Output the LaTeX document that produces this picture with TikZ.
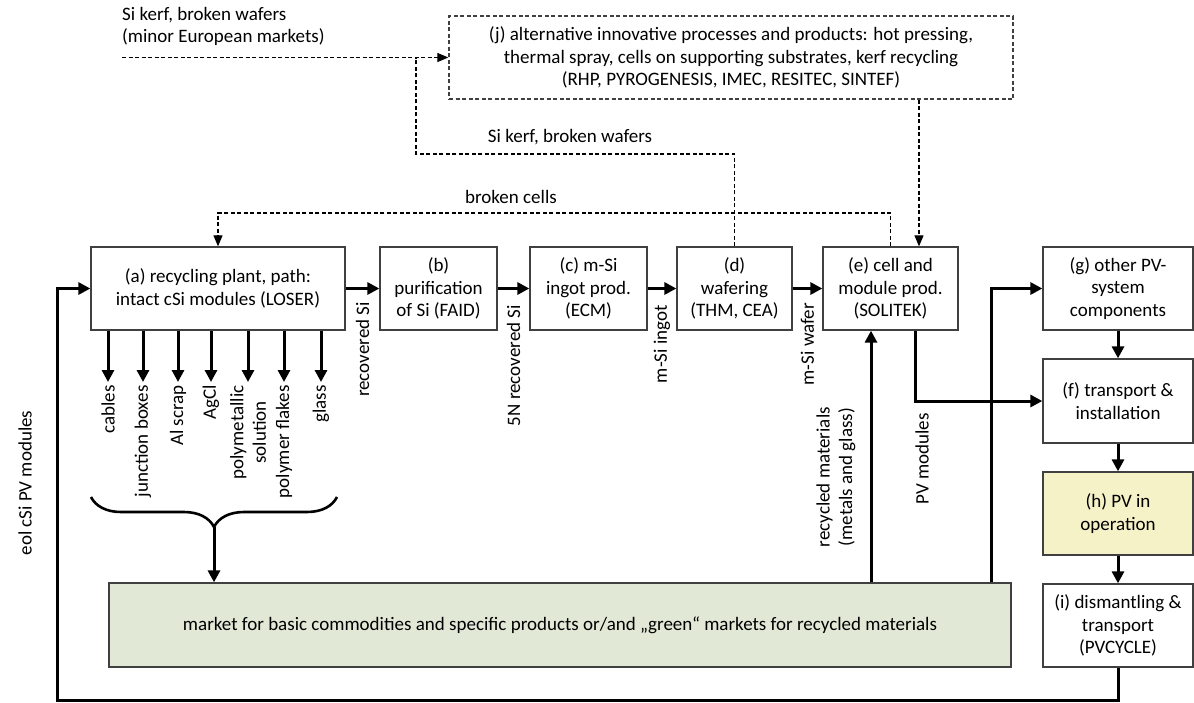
\documentclass[tikz,border=0pt]{standalone}
\usepackage{fontspec}
\setmainfont{Carlito}
\usetikzlibrary{arrows.meta, decorations.pathreplacing}
\definecolor{mgreen}{RGB}{226,232,214}
\definecolor{hyellow}{RGB}{246,242,200}

\begin{document}
\begin{tikzpicture}[x=1pt, y=-1pt,
  font=\fontsize{19}{22.5}\selectfont,
  box/.style={draw=black!75, line width=1.3pt, align=center, inner sep=2pt, minimum height=83pt},
  dbox/.style={box, dash pattern=on 4pt off 2.5pt},
  flow/.style={line width=3pt, -{Triangle[length=12pt, width=12pt]}},
  dflow/.style={line width=1.1pt, dash pattern=on 4pt off 2.5pt, -{Triangle[length=11pt, width=9pt]}},
  dline/.style={line width=1.1pt, dash pattern=on 4pt off 2.5pt},
  vlabel/.style={rotate=90, anchor=east, align=center, inner sep=2pt}]
\useasboundingbox (0,0) rectangle (1194,702);

\node[dbox, minimum width=564pt] (j) at (731,57.5) {(j) alternative innovative processes and products: hot pressing,\\thermal spray, cells on supporting substrates, kerf recycling\\(RHP, PYROGENESIS, IMEC, RESITEC, SINTEF)};
\node[anchor=north west, align=left, inner sep=0pt] (minor) at (122,7) {Si kerf, broken wafers\\(minor European markets)};

\node[box, minimum width=254pt] (a) at (218,288.5) {(a) recycling plant, path:\\intact cSi modules (LOSER)};
\node[box, minimum width=117pt] (b) at (438.5,288.5) {(b)\\purification\\of Si (FAID)};
\node[box, minimum width=117pt] (c) at (588.5,288.5) {(c) m-Si\\ingot prod.\\(ECM)};
\node[box, minimum width=115pt] (d) at (734.5,288.5) {(d)\\wafering\\(THM, CEA)};
\node[box, minimum width=135pt] (e) at (890.5,288.5) {(e) cell and\\module prod.\\(SOLITEK)};
\node[box, minimum width=150pt] (g) at (1118,288.5) {(g) other PV-\\system\\components};
\node[box, minimum width=150pt, minimum height=84pt] (f) at (1118,401) {(f) transport \&\\installation};
\node[box, minimum width=150pt, fill=hyellow] (h) at (1118,513.5) {(h) PV in\\operation};
\node[box, minimum width=150pt] (i) at (1118,625.5) {(i) dismantling \&\\transport\\(PVCYCLE)};
\node[box, minimum width=902pt, minimum height=84pt, fill=mgreen] (market) at (560,625) {market for basic commodities and specific products or/and „green“ markets for recycled materials};

\node (kerf) at (570,137) {Si kerf, broken wafers};
\node (broken) at (511,197) {broken cells};
\node[vlabel] (lrec) at (362.5,300) {recovered Si};
\node[vlabel] (lfive) at (513.5,303) {5N recovered Si};
\node[vlabel] (lingot) at (662,303) {m-Si ingot};
\node[vlabel] (lwafer) at (807.5,301) {m-Si wafer};
\node[vlabel] (lrecmat) at (836,405) {recycled materials\\(metals and glass)};
\node[vlabel] (lpv) at (922,411) {PV modules};
\node[rotate=90] (leol) at (25,483) {eol cSi PV modules};

\coordinate (kerfin) at (122,57.5);
\coordinate (join) at (416,57.5);
\coordinate (kbend) at (416,154);
\coordinate (cbend) at (218,213);
\coordinate (ein) at ([xshift=28.5pt]e.north);
\draw[dflow] (kerfin) -- (j.west);
\draw[dline] (d.north) |- (kbend) -- (join);
\draw[dflow] (e.north) |- (cbend) -- (a.north);
\draw[dflow] (ein |- j.south) -- (ein);

\draw[flow] (a.east) -- (b.west);
\draw[flow] (b.east) -- (c.west);
\draw[flow] (c.east) -- (d.west);
\draw[flow] (d.east) -- (e.west);
\foreach \x/\txt in {108/cables, 143/junction boxes, 178/Al scrap, 211/AgCl, 248/{polymetallic\\solution}, 284/polymer flakes, 321/glass}
  \draw[flow] (\x,0 |- a.south) -- (\x,382) node[vlabel] (out\x) {\txt};

\draw[line width=2.6pt, decorate, decoration={brace, amplitude=30pt, mirror}] (91,497) -- (337,497);
\coordinate (bracetip) at (214,527);
\draw[flow] (bracetip) -- (bracetip |- market.north);

\coordinate (eup) at ([xshift=-19.5pt]e.south);
\coordinate (edown) at ([xshift=24.5pt]e.south);
\coordinate (gfeed) at ([xshift=-20pt]market.north east);
\draw[flow] (eup |- market.north) -- (eup);
\draw[flow] (edown) |- (f.west);
\draw[flow] (gfeed) |- (g.west);
\draw[flow] (g.south) -- (f.north);
\draw[flow] (f.south) -- (h.north);
\draw[flow] (h.south) -- (i.north);
\coordinate (loop) at (57,700);
\draw[flow] (i.south) |- (loop) |- (a.west);
\end{tikzpicture}
\end{document}
